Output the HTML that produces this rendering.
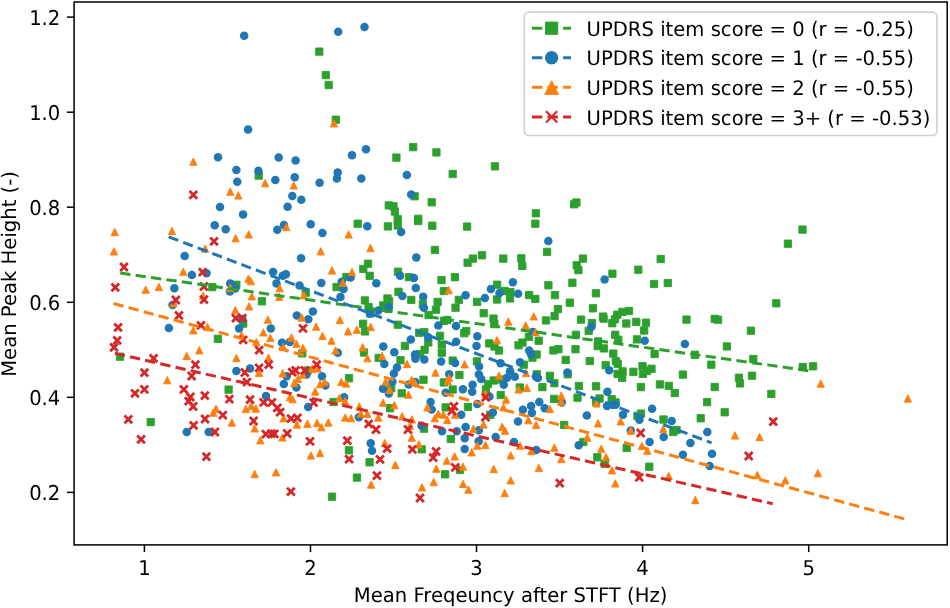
<!DOCTYPE html><html><head><meta charset="utf-8"><style>html,body{margin:0;padding:0;background:#fff;width:950px;height:608px;overflow:hidden}svg{display:block}text{font-family:"DejaVu Sans", "Liberation Sans", sans-serif;font-size:19.6px;fill:#000;text-rendering:geometricPrecision}</style></head><body>
<svg width="950" height="608" viewBox="0 0 950 608">
<rect x="0" y="0" width="950" height="608" fill="#fff"/>
<defs><clipPath id="ax"><rect x="74.1" y="2.0" width="873.1" height="542.9"/></clipPath></defs>
<g clip-path="url(#ax)">
<g fill="#2ca02c" stroke="#2ca02c" stroke-width="0.9" stroke-linejoin="round"><rect x="315.65" y="47.95" width="7.30" height="7.30"/><rect x="322.15" y="71.45" width="7.30" height="7.30"/><rect x="325.05" y="81.35" width="7.30" height="7.30"/><rect x="332.15" y="116.05" width="7.30" height="7.30"/><rect x="255.05" y="171.95" width="7.30" height="7.30"/><rect x="392.75" y="153.95" width="7.30" height="7.30"/><rect x="409.55" y="143.45" width="7.30" height="7.30"/><rect x="432.75" y="148.75" width="7.30" height="7.30"/><rect x="449.05" y="170.35" width="7.30" height="7.30"/><rect x="410.95" y="192.65" width="7.30" height="7.30"/><rect x="491.25" y="162.65" width="7.30" height="7.30"/><rect x="428.05" y="198.65" width="7.30" height="7.30"/><rect x="385.15" y="201.75" width="7.30" height="7.30"/><rect x="389.85" y="202.65" width="7.30" height="7.30"/><rect x="391.25" y="207.95" width="7.30" height="7.30"/><rect x="394.05" y="215.55" width="7.30" height="7.30"/><rect x="394.05" y="221.85" width="7.30" height="7.30"/><rect x="354.05" y="220.05" width="7.30" height="7.30"/><rect x="384.25" y="222.75" width="7.30" height="7.30"/><rect x="414.55" y="215.15" width="7.30" height="7.30"/><rect x="414.45" y="217.35" width="7.30" height="7.30"/><rect x="428.65" y="222.05" width="7.30" height="7.30"/><rect x="431.25" y="246.25" width="7.30" height="7.30"/><rect x="364.35" y="260.05" width="7.30" height="7.30"/><rect x="359.65" y="265.35" width="7.30" height="7.30"/><rect x="394.35" y="268.05" width="7.30" height="7.30"/><rect x="463.45" y="222.95" width="7.30" height="7.30"/><rect x="532.25" y="209.65" width="7.30" height="7.30"/><rect x="531.65" y="220.05" width="7.30" height="7.30"/><rect x="543.45" y="248.25" width="7.30" height="7.30"/><rect x="478.35" y="251.65" width="7.30" height="7.30"/><rect x="469.25" y="254.95" width="7.30" height="7.30"/><rect x="463.95" y="259.05" width="7.30" height="7.30"/><rect x="499.65" y="254.95" width="7.30" height="7.30"/><rect x="517.65" y="254.65" width="7.30" height="7.30"/><rect x="518.65" y="262.25" width="7.30" height="7.30"/><rect x="572.75" y="198.85" width="7.30" height="7.30"/><rect x="570.55" y="200.65" width="7.30" height="7.30"/><rect x="579.25" y="254.95" width="7.30" height="7.30"/><rect x="573.05" y="261.65" width="7.30" height="7.30"/><rect x="574.75" y="266.45" width="7.30" height="7.30"/><rect x="657.05" y="255.35" width="7.30" height="7.30"/><rect x="634.65" y="266.05" width="7.30" height="7.30"/><rect x="608.75" y="270.05" width="7.30" height="7.30"/><rect x="798.85" y="225.95" width="7.30" height="7.30"/><rect x="784.25" y="240.05" width="7.30" height="7.30"/><rect x="208.65" y="283.45" width="7.30" height="7.30"/><rect x="232.65" y="281.15" width="7.30" height="7.30"/><rect x="258.25" y="297.65" width="7.30" height="7.30"/><rect x="302.05" y="288.95" width="7.30" height="7.30"/><rect x="239.55" y="319.95" width="7.30" height="7.30"/><rect x="214.25" y="335.15" width="7.30" height="7.30"/><rect x="366.05" y="272.15" width="7.30" height="7.30"/><rect x="342.75" y="273.35" width="7.30" height="7.30"/><rect x="332.95" y="283.45" width="7.30" height="7.30"/><rect x="394.85" y="288.15" width="7.30" height="7.30"/><rect x="361.25" y="296.75" width="7.30" height="7.30"/><rect x="364.95" y="303.45" width="7.30" height="7.30"/><rect x="366.75" y="309.75" width="7.30" height="7.30"/><rect x="379.65" y="301.75" width="7.30" height="7.30"/><rect x="383.85" y="294.85" width="7.30" height="7.30"/><rect x="385.45" y="297.55" width="7.30" height="7.30"/><rect x="384.85" y="305.15" width="7.30" height="7.30"/><rect x="405.35" y="273.55" width="7.30" height="7.30"/><rect x="407.65" y="296.25" width="7.30" height="7.30"/><rect x="419.15" y="300.55" width="7.30" height="7.30"/><rect x="437.85" y="276.45" width="7.30" height="7.30"/><rect x="451.25" y="273.55" width="7.30" height="7.30"/><rect x="440.15" y="287.35" width="7.30" height="7.30"/><rect x="433.95" y="298.25" width="7.30" height="7.30"/><rect x="432.35" y="306.05" width="7.30" height="7.30"/><rect x="424.95" y="311.35" width="7.30" height="7.30"/><rect x="359.45" y="320.15" width="7.30" height="7.30"/><rect x="361.35" y="327.75" width="7.30" height="7.30"/><rect x="394.25" y="321.05" width="7.30" height="7.30"/><rect x="440.35" y="317.15" width="7.30" height="7.30"/><rect x="443.65" y="316.35" width="7.30" height="7.30"/><rect x="415.55" y="329.15" width="7.30" height="7.30"/><rect x="420.65" y="328.55" width="7.30" height="7.30"/><rect x="424.65" y="338.75" width="7.30" height="7.30"/><rect x="420.95" y="346.15" width="7.30" height="7.30"/><rect x="401.25" y="342.25" width="7.30" height="7.30"/><rect x="436.35" y="332.15" width="7.30" height="7.30"/><rect x="438.15" y="340.85" width="7.30" height="7.30"/><rect x="455.15" y="296.25" width="7.30" height="7.30"/><rect x="451.85" y="304.05" width="7.30" height="7.30"/><rect x="473.45" y="298.25" width="7.30" height="7.30"/><rect x="480.05" y="309.55" width="7.30" height="7.30"/><rect x="493.45" y="281.05" width="7.30" height="7.30"/><rect x="500.85" y="287.35" width="7.30" height="7.30"/><rect x="506.75" y="288.45" width="7.30" height="7.30"/><rect x="506.35" y="294.75" width="7.30" height="7.30"/><rect x="493.45" y="295.85" width="7.30" height="7.30"/><rect x="489.85" y="314.95" width="7.30" height="7.30"/><rect x="490.75" y="320.45" width="7.30" height="7.30"/><rect x="462.55" y="327.35" width="7.30" height="7.30"/><rect x="460.65" y="329.55" width="7.30" height="7.30"/><rect x="485.65" y="339.75" width="7.30" height="7.30"/><rect x="490.85" y="342.85" width="7.30" height="7.30"/><rect x="495.35" y="346.85" width="7.30" height="7.30"/><rect x="514.85" y="341.65" width="7.30" height="7.30"/><rect x="518.75" y="338.95" width="7.30" height="7.30"/><rect x="544.75" y="281.65" width="7.30" height="7.30"/><rect x="568.75" y="279.15" width="7.30" height="7.30"/><rect x="525.45" y="291.45" width="7.30" height="7.30"/><rect x="531.65" y="295.25" width="7.30" height="7.30"/><rect x="551.35" y="291.45" width="7.30" height="7.30"/><rect x="566.15" y="299.05" width="7.30" height="7.30"/><rect x="554.25" y="305.45" width="7.30" height="7.30"/><rect x="550.95" y="312.45" width="7.30" height="7.30"/><rect x="542.35" y="316.75" width="7.30" height="7.30"/><rect x="525.25" y="333.15" width="7.30" height="7.30"/><rect x="535.05" y="337.05" width="7.30" height="7.30"/><rect x="554.75" y="345.55" width="7.30" height="7.30"/><rect x="549.75" y="346.75" width="7.30" height="7.30"/><rect x="592.25" y="289.65" width="7.30" height="7.30"/><rect x="589.35" y="304.65" width="7.30" height="7.30"/><rect x="577.35" y="315.95" width="7.30" height="7.30"/><rect x="588.25" y="319.45" width="7.30" height="7.30"/><rect x="585.05" y="327.25" width="7.30" height="7.30"/><rect x="572.25" y="331.15" width="7.30" height="7.30"/><rect x="599.35" y="312.95" width="7.30" height="7.30"/><rect x="599.95" y="314.95" width="7.30" height="7.30"/><rect x="608.65" y="319.55" width="7.30" height="7.30"/><rect x="611.35" y="315.65" width="7.30" height="7.30"/><rect x="613.65" y="311.05" width="7.30" height="7.30"/><rect x="618.75" y="308.25" width="7.30" height="7.30"/><rect x="625.35" y="307.35" width="7.30" height="7.30"/><rect x="622.65" y="319.85" width="7.30" height="7.30"/><rect x="632.65" y="318.25" width="7.30" height="7.30"/><rect x="642.35" y="319.05" width="7.30" height="7.30"/><rect x="640.55" y="326.85" width="7.30" height="7.30"/><rect x="611.55" y="331.15" width="7.30" height="7.30"/><rect x="614.65" y="336.15" width="7.30" height="7.30"/><rect x="633.35" y="335.75" width="7.30" height="7.30"/><rect x="594.45" y="337.75" width="7.30" height="7.30"/><rect x="594.05" y="342.45" width="7.30" height="7.30"/><rect x="600.25" y="344.75" width="7.30" height="7.30"/><rect x="571.85" y="345.55" width="7.30" height="7.30"/><rect x="650.45" y="280.35" width="7.30" height="7.30"/><rect x="664.15" y="279.35" width="7.30" height="7.30"/><rect x="682.85" y="315.95" width="7.30" height="7.30"/><rect x="772.65" y="299.65" width="7.30" height="7.30"/><rect x="711.05" y="315.25" width="7.30" height="7.30"/><rect x="714.35" y="316.05" width="7.30" height="7.30"/><rect x="747.25" y="327.05" width="7.30" height="7.30"/><rect x="723.25" y="342.75" width="7.30" height="7.30"/><rect x="116.35" y="353.05" width="7.30" height="7.30"/><rect x="147.05" y="418.45" width="7.30" height="7.30"/><rect x="224.95" y="385.95" width="7.30" height="7.30"/><rect x="298.65" y="349.75" width="7.30" height="7.30"/><rect x="303.85" y="366.95" width="7.30" height="7.30"/><rect x="329.85" y="398.35" width="7.30" height="7.30"/><rect x="360.35" y="348.85" width="7.30" height="7.30"/><rect x="375.05" y="354.25" width="7.30" height="7.30"/><rect x="396.85" y="356.55" width="7.30" height="7.30"/><rect x="345.35" y="374.55" width="7.30" height="7.30"/><rect x="387.55" y="384.65" width="7.30" height="7.30"/><rect x="398.05" y="389.65" width="7.30" height="7.30"/><rect x="416.35" y="350.55" width="7.30" height="7.30"/><rect x="438.15" y="349.05" width="7.30" height="7.30"/><rect x="449.05" y="356.95" width="7.30" height="7.30"/><rect x="419.85" y="376.05" width="7.30" height="7.30"/><rect x="440.15" y="378.75" width="7.30" height="7.30"/><rect x="449.05" y="385.85" width="7.30" height="7.30"/><rect x="386.35" y="404.55" width="7.30" height="7.30"/><rect x="442.05" y="403.75" width="7.30" height="7.30"/><rect x="473.25" y="357.75" width="7.30" height="7.30"/><rect x="455.75" y="371.35" width="7.30" height="7.30"/><rect x="520.15" y="361.05" width="7.30" height="7.30"/><rect x="490.15" y="376.85" width="7.30" height="7.30"/><rect x="484.35" y="380.35" width="7.30" height="7.30"/><rect x="482.25" y="385.85" width="7.30" height="7.30"/><rect x="498.05" y="375.85" width="7.30" height="7.30"/><rect x="497.05" y="391.35" width="7.30" height="7.30"/><rect x="516.15" y="383.85" width="7.30" height="7.30"/><rect x="532.95" y="350.85" width="7.30" height="7.30"/><rect x="528.85" y="353.95" width="7.30" height="7.30"/><rect x="562.05" y="356.25" width="7.30" height="7.30"/><rect x="533.15" y="370.65" width="7.30" height="7.30"/><rect x="546.25" y="372.15" width="7.30" height="7.30"/><rect x="550.75" y="379.55" width="7.30" height="7.30"/><rect x="564.05" y="370.65" width="7.30" height="7.30"/><rect x="538.75" y="383.45" width="7.30" height="7.30"/><rect x="464.35" y="403.35" width="7.30" height="7.30"/><rect x="486.55" y="411.15" width="7.30" height="7.30"/><rect x="550.45" y="395.25" width="7.30" height="7.30"/><rect x="560.55" y="421.25" width="7.30" height="7.30"/><rect x="609.65" y="349.95" width="7.30" height="7.30"/><rect x="586.15" y="357.35" width="7.30" height="7.30"/><rect x="602.05" y="361.55" width="7.30" height="7.30"/><rect x="612.25" y="357.55" width="7.30" height="7.30"/><rect x="614.05" y="360.15" width="7.30" height="7.30"/><rect x="618.95" y="367.75" width="7.30" height="7.30"/><rect x="613.95" y="370.25" width="7.30" height="7.30"/><rect x="618.55" y="374.15" width="7.30" height="7.30"/><rect x="629.75" y="368.15" width="7.30" height="7.30"/><rect x="638.85" y="362.45" width="7.30" height="7.30"/><rect x="639.25" y="370.25" width="7.30" height="7.30"/><rect x="647.85" y="365.15" width="7.30" height="7.30"/><rect x="643.35" y="367.35" width="7.30" height="7.30"/><rect x="575.25" y="382.35" width="7.30" height="7.30"/><rect x="592.45" y="382.65" width="7.30" height="7.30"/><rect x="637.25" y="383.45" width="7.30" height="7.30"/><rect x="650.95" y="350.35" width="7.30" height="7.30"/><rect x="691.25" y="351.15" width="7.30" height="7.30"/><rect x="679.25" y="370.95" width="7.30" height="7.30"/><rect x="656.25" y="380.75" width="7.30" height="7.30"/><rect x="665.15" y="382.25" width="7.30" height="7.30"/><rect x="671.15" y="389.35" width="7.30" height="7.30"/><rect x="573.85" y="394.05" width="7.30" height="7.30"/><rect x="595.95" y="394.85" width="7.30" height="7.30"/><rect x="592.45" y="398.35" width="7.30" height="7.30"/><rect x="608.05" y="395.55" width="7.30" height="7.30"/><rect x="611.95" y="398.75" width="7.30" height="7.30"/><rect x="637.35" y="409.95" width="7.30" height="7.30"/><rect x="633.85" y="412.35" width="7.30" height="7.30"/><rect x="659.85" y="415.85" width="7.30" height="7.30"/><rect x="707.65" y="361.05" width="7.30" height="7.30"/><rect x="749.65" y="355.35" width="7.30" height="7.30"/><rect x="735.25" y="374.05" width="7.30" height="7.30"/><rect x="736.35" y="379.75" width="7.30" height="7.30"/><rect x="748.35" y="372.05" width="7.30" height="7.30"/><rect x="711.05" y="383.35" width="7.30" height="7.30"/><rect x="767.65" y="390.25" width="7.30" height="7.30"/><rect x="703.45" y="398.45" width="7.30" height="7.30"/><rect x="721.05" y="408.65" width="7.30" height="7.30"/><rect x="697.05" y="414.65" width="7.30" height="7.30"/><rect x="799.05" y="363.35" width="7.30" height="7.30"/><rect x="809.45" y="362.65" width="7.30" height="7.30"/><rect x="328.35" y="493.05" width="7.30" height="7.30"/><rect x="345.25" y="446.65" width="7.30" height="7.30"/><rect x="365.95" y="458.65" width="7.30" height="7.30"/><rect x="353.25" y="473.95" width="7.30" height="7.30"/><rect x="418.05" y="445.65" width="7.30" height="7.30"/><rect x="420.35" y="425.05" width="7.30" height="7.30"/><rect x="447.15" y="435.35" width="7.30" height="7.30"/><rect x="441.45" y="470.65" width="7.30" height="7.30"/><rect x="456.35" y="466.35" width="7.30" height="7.30"/><rect x="669.65" y="428.35" width="7.30" height="7.30"/><rect x="672.85" y="426.35" width="7.30" height="7.30"/><rect x="579.65" y="438.35" width="7.30" height="7.30"/><rect x="593.65" y="453.65" width="7.30" height="7.30"/><rect x="601.05" y="460.35" width="7.30" height="7.30"/><rect x="623.05" y="444.35" width="7.30" height="7.30"/><rect x="645.65" y="463.05" width="7.30" height="7.30"/></g>
<g fill="#1f77b4"><circle cx="244.2" cy="35.8" r="4.25"/><circle cx="338.2" cy="31.7" r="4.25"/><circle cx="364.5" cy="26.9" r="4.25"/><circle cx="248.1" cy="129.6" r="4.25"/><circle cx="218.0" cy="157.2" r="4.25"/><circle cx="278.7" cy="157.6" r="4.25"/><circle cx="295.6" cy="160.4" r="4.25"/><circle cx="236.4" cy="169.9" r="4.25"/><circle cx="258.4" cy="170.7" r="4.25"/><circle cx="237.3" cy="181.7" r="4.25"/><circle cx="275.3" cy="180.1" r="4.25"/><circle cx="294.7" cy="177.3" r="4.25"/><circle cx="319.6" cy="182.7" r="4.25"/><circle cx="292.3" cy="196.0" r="4.25"/><circle cx="352.0" cy="155.3" r="4.25"/><circle cx="366.0" cy="149.3" r="4.25"/><circle cx="337.7" cy="172.4" r="4.25"/><circle cx="336.9" cy="178.4" r="4.25"/><circle cx="361.3" cy="178.4" r="4.25"/><circle cx="406.9" cy="175.1" r="4.25"/><circle cx="411.2" cy="194.4" r="4.25"/><circle cx="214.7" cy="225.3" r="4.25"/><circle cx="184.7" cy="255.9" r="4.25"/><circle cx="191.9" cy="275.1" r="4.25"/><circle cx="206.5" cy="273.3" r="4.25"/><circle cx="301.3" cy="199.7" r="4.25"/><circle cx="220.0" cy="207.0" r="4.25"/><circle cx="243.1" cy="214.6" r="4.25"/><circle cx="287.6" cy="206.7" r="4.25"/><circle cx="225.7" cy="229.3" r="4.25"/><circle cx="277.3" cy="229.7" r="4.25"/><circle cx="284.0" cy="225.0" r="4.25"/><circle cx="310.7" cy="224.3" r="4.25"/><circle cx="322.4" cy="233.0" r="4.25"/><circle cx="301.1" cy="258.3" r="4.25"/><circle cx="273.1" cy="272.1" r="4.25"/><circle cx="367.3" cy="226.3" r="4.25"/><circle cx="401.1" cy="232.1" r="4.25"/><circle cx="416.3" cy="257.4" r="4.25"/><circle cx="548.3" cy="241.0" r="4.25"/><circle cx="174.4" cy="288.3" r="4.25"/><circle cx="172.5" cy="304.9" r="4.25"/><circle cx="168.9" cy="328.0" r="4.25"/><circle cx="230.2" cy="283.5" r="4.25"/><circle cx="235.3" cy="288.5" r="4.25"/><circle cx="229.9" cy="291.6" r="4.25"/><circle cx="282.7" cy="275.8" r="4.25"/><circle cx="285.9" cy="274.3" r="4.25"/><circle cx="276.5" cy="283.6" r="4.25"/><circle cx="299.5" cy="285.6" r="4.25"/><circle cx="321.3" cy="282.9" r="4.25"/><circle cx="312.9" cy="311.4" r="4.25"/><circle cx="296.8" cy="315.4" r="4.25"/><circle cx="308.3" cy="319.3" r="4.25"/><circle cx="242.4" cy="318.9" r="4.25"/><circle cx="239.1" cy="328.6" r="4.25"/><circle cx="270.8" cy="328.6" r="4.25"/><circle cx="282.0" cy="342.7" r="4.25"/><circle cx="289.8" cy="341.9" r="4.25"/><circle cx="376.3" cy="283.2" r="4.25"/><circle cx="350.6" cy="277.4" r="4.25"/><circle cx="341.7" cy="281.7" r="4.25"/><circle cx="343.6" cy="289.1" r="4.25"/><circle cx="340.5" cy="296.9" r="4.25"/><circle cx="400.1" cy="275.8" r="4.25"/><circle cx="402.4" cy="296.1" r="4.25"/><circle cx="370.0" cy="313.4" r="4.25"/><circle cx="378.4" cy="310.5" r="4.25"/><circle cx="388.8" cy="307.3" r="4.25"/><circle cx="414.0" cy="278.0" r="4.25"/><circle cx="415.8" cy="287.9" r="4.25"/><circle cx="423.2" cy="296.8" r="4.25"/><circle cx="423.9" cy="307.7" r="4.25"/><circle cx="438.3" cy="325.5" r="4.25"/><circle cx="428.2" cy="337.3" r="4.25"/><circle cx="410.8" cy="339.4" r="4.25"/><circle cx="383.3" cy="346.6" r="4.25"/><circle cx="465.6" cy="295.3" r="4.25"/><circle cx="484.9" cy="298.0" r="4.25"/><circle cx="490.9" cy="289.0" r="4.25"/><circle cx="499.5" cy="292.9" r="4.25"/><circle cx="512.9" cy="282.2" r="4.25"/><circle cx="518.1" cy="293.7" r="4.25"/><circle cx="456.1" cy="325.9" r="4.25"/><circle cx="477.3" cy="336.2" r="4.25"/><circle cx="456.1" cy="341.8" r="4.25"/><circle cx="476.5" cy="346.1" r="4.25"/><circle cx="532.7" cy="332.1" r="4.25"/><circle cx="529.2" cy="350.5" r="4.25"/><circle cx="604.6" cy="279.5" r="4.25"/><circle cx="591.5" cy="326.8" r="4.25"/><circle cx="644.7" cy="340.8" r="4.25"/><circle cx="684.9" cy="343.9" r="4.25"/><circle cx="236.4" cy="370.9" r="4.25"/><circle cx="250.1" cy="368.6" r="4.25"/><circle cx="286.7" cy="376.2" r="4.25"/><circle cx="283.8" cy="384.1" r="4.25"/><circle cx="306.4" cy="374.8" r="4.25"/><circle cx="296.4" cy="387.5" r="4.25"/><circle cx="322.0" cy="376.2" r="4.25"/><circle cx="325.4" cy="385.4" r="4.25"/><circle cx="266.0" cy="396.1" r="4.25"/><circle cx="308.2" cy="407.0" r="4.25"/><circle cx="337.8" cy="352.8" r="4.25"/><circle cx="394.3" cy="352.3" r="4.25"/><circle cx="384.3" cy="364.0" r="4.25"/><circle cx="397.0" cy="367.4" r="4.25"/><circle cx="393.9" cy="373.5" r="4.25"/><circle cx="392.4" cy="381.7" r="4.25"/><circle cx="383.0" cy="388.7" r="4.25"/><circle cx="388.9" cy="393.4" r="4.25"/><circle cx="415.0" cy="354.4" r="4.25"/><circle cx="415.4" cy="358.7" r="4.25"/><circle cx="424.3" cy="359.5" r="4.25"/><circle cx="441.1" cy="361.4" r="4.25"/><circle cx="408.7" cy="384.4" r="4.25"/><circle cx="415.4" cy="382.0" r="4.25"/><circle cx="449.2" cy="374.3" r="4.25"/><circle cx="445.7" cy="392.8" r="4.25"/><circle cx="344.1" cy="397.3" r="4.25"/><circle cx="358.9" cy="417.2" r="4.25"/><circle cx="430.6" cy="402.0" r="4.25"/><circle cx="431.7" cy="409.4" r="4.25"/><circle cx="421.6" cy="425.7" r="4.25"/><circle cx="455.1" cy="363.0" r="4.25"/><circle cx="479.1" cy="366.5" r="4.25"/><circle cx="478.9" cy="374.6" r="4.25"/><circle cx="481.2" cy="378.9" r="4.25"/><circle cx="500.6" cy="363.2" r="4.25"/><circle cx="520.0" cy="362.2" r="4.25"/><circle cx="510.1" cy="371.3" r="4.25"/><circle cx="514.8" cy="376.8" r="4.25"/><circle cx="507.0" cy="377.8" r="4.25"/><circle cx="503.8" cy="384.7" r="4.25"/><circle cx="472.6" cy="384.8" r="4.25"/><circle cx="462.9" cy="389.3" r="4.25"/><circle cx="472.2" cy="391.8" r="4.25"/><circle cx="531.0" cy="354.2" r="4.25"/><circle cx="535.8" cy="376.5" r="4.25"/><circle cx="537.8" cy="377.9" r="4.25"/><circle cx="567.5" cy="372.5" r="4.25"/><circle cx="489.4" cy="396.5" r="4.25"/><circle cx="477.3" cy="403.9" r="4.25"/><circle cx="461.2" cy="414.8" r="4.25"/><circle cx="492.9" cy="412.5" r="4.25"/><circle cx="465.6" cy="426.9" r="4.25"/><circle cx="518.0" cy="421.4" r="4.25"/><circle cx="522.9" cy="409.8" r="4.25"/><circle cx="539.3" cy="402.0" r="4.25"/><circle cx="531.1" cy="405.9" r="4.25"/><circle cx="531.9" cy="412.9" r="4.25"/><circle cx="544.7" cy="408.2" r="4.25"/><circle cx="561.8" cy="402.4" r="4.25"/><circle cx="609.2" cy="370.2" r="4.25"/><circle cx="607.4" cy="391.8" r="4.25"/><circle cx="607.0" cy="405.9" r="4.25"/><circle cx="612.5" cy="404.7" r="4.25"/><circle cx="615.6" cy="404.7" r="4.25"/><circle cx="623.0" cy="414.8" r="4.25"/><circle cx="639.4" cy="419.7" r="4.25"/><circle cx="586.8" cy="415.6" r="4.25"/><circle cx="652.1" cy="408.7" r="4.25"/><circle cx="671.7" cy="420.9" r="4.25"/><circle cx="186.7" cy="432.0" r="4.25"/><circle cx="208.7" cy="432.0" r="4.25"/><circle cx="370.7" cy="443.3" r="4.25"/><circle cx="372.0" cy="450.7" r="4.25"/><circle cx="442.0" cy="431.3" r="4.25"/><circle cx="456.7" cy="431.3" r="4.25"/><circle cx="478.8" cy="430.3" r="4.25"/><circle cx="464.7" cy="438.3" r="4.25"/><circle cx="478.7" cy="441.3" r="4.25"/><circle cx="464.7" cy="448.9" r="4.25"/><circle cx="495.7" cy="437.1" r="4.25"/><circle cx="514.0" cy="442.0" r="4.25"/><circle cx="536.3" cy="450.0" r="4.25"/><circle cx="630.8" cy="430.5" r="4.25"/><circle cx="663.7" cy="436.9" r="4.25"/><circle cx="690.4" cy="443.1" r="4.25"/><circle cx="682.9" cy="454.7" r="4.25"/><circle cx="578.7" cy="445.3" r="4.25"/><circle cx="649.6" cy="442.0" r="4.25"/><circle cx="707.3" cy="432.0" r="4.25"/><circle cx="712.0" cy="453.7" r="4.25"/><circle cx="709.7" cy="466.0" r="4.25"/></g>
<g fill="#ff7f0e" stroke="#ff7f0e" stroke-width="0.9" stroke-linejoin="round"><path d="M193.30 157.91L196.97 165.25L189.63 165.25Z"/><path d="M265.10 179.51L268.77 186.85L261.43 186.85Z"/><path d="M293.70 181.71L297.37 189.05L290.03 189.05Z"/><path d="M230.30 187.91L233.97 195.25L226.63 195.25Z"/><path d="M238.30 191.71L241.97 199.05L234.63 199.05Z"/><path d="M333.90 119.61L337.57 126.95L330.23 126.95Z"/><path d="M114.70 228.31L118.37 235.65L111.03 235.65Z"/><path d="M172.00 227.31L175.67 234.65L168.33 234.65Z"/><path d="M114.00 247.61L117.67 254.95L110.33 254.95Z"/><path d="M205.10 244.91L208.77 252.25L201.43 252.25Z"/><path d="M183.30 268.01L186.97 275.35L179.63 275.35Z"/><path d="M235.60 234.51L239.27 241.85L231.93 241.85Z"/><path d="M248.70 230.71L252.37 238.05L245.03 238.05Z"/><path d="M286.30 223.31L289.97 230.65L282.63 230.65Z"/><path d="M320.70 247.61L324.37 254.95L317.03 254.95Z"/><path d="M332.00 266.71L335.67 274.05L328.33 274.05Z"/><path d="M348.70 230.71L352.37 238.05L345.03 238.05Z"/><path d="M370.40 244.31L374.07 251.65L366.73 251.65Z"/><path d="M352.00 268.31L355.67 275.65L348.33 275.65Z"/><path d="M145.70 285.91L149.37 293.25L142.03 293.25Z"/><path d="M158.90 283.31L162.57 290.65L155.23 290.65Z"/><path d="M203.10 291.91L206.77 299.25L199.43 299.25Z"/><path d="M173.50 299.51L177.17 306.85L169.83 306.85Z"/><path d="M193.30 326.61L196.97 333.95L189.63 333.95Z"/><path d="M207.50 323.31L211.17 330.65L203.83 330.65Z"/><path d="M199.30 346.61L202.97 353.95L195.63 353.95Z"/><path d="M230.20 284.11L233.87 291.45L226.53 291.45Z"/><path d="M248.40 275.01L252.07 282.35L244.73 282.35Z"/><path d="M250.80 277.41L254.47 284.75L247.13 284.75Z"/><path d="M251.80 292.61L255.47 299.95L248.13 299.95Z"/><path d="M249.10 302.71L252.77 310.05L245.43 310.05Z"/><path d="M235.30 306.51L238.97 313.85L231.63 313.85Z"/><path d="M279.60 284.51L283.27 291.85L275.93 291.85Z"/><path d="M279.20 293.11L282.87 300.45L275.53 300.45Z"/><path d="M303.80 291.51L307.47 298.85L300.13 298.85Z"/><path d="M301.70 313.81L305.37 321.15L298.03 321.15Z"/><path d="M241.60 331.51L245.27 338.85L237.93 338.85Z"/><path d="M256.40 338.51L260.07 345.85L252.73 345.85Z"/><path d="M267.90 315.91L271.57 323.25L264.23 323.25Z"/><path d="M263.40 328.71L267.07 336.05L259.73 336.05Z"/><path d="M270.30 334.21L273.97 341.55L266.63 341.55Z"/><path d="M316.10 322.91L319.77 330.25L312.43 330.25Z"/><path d="M322.50 332.21L326.17 339.55L318.83 339.55Z"/><path d="M331.50 336.91L335.17 344.25L327.83 344.25Z"/><path d="M291.40 333.81L295.07 341.15L287.73 341.15Z"/><path d="M296.40 340.01L300.07 347.35L292.73 347.35Z"/><path d="M283.20 343.21L286.87 350.55L279.53 350.55Z"/><path d="M303.00 344.31L306.67 351.65L299.33 351.65Z"/><path d="M342.90 279.11L346.57 286.45L339.23 286.45Z"/><path d="M448.70 286.41L452.37 293.75L445.03 293.75Z"/><path d="M339.80 316.31L343.47 323.65L336.13 323.65Z"/><path d="M370.70 323.31L374.37 330.65L367.03 330.65Z"/><path d="M348.10 327.61L351.77 334.95L344.43 334.95Z"/><path d="M356.90 326.01L360.57 333.35L353.23 333.35Z"/><path d="M335.50 346.71L339.17 354.05L331.83 354.05Z"/><path d="M362.70 343.61L366.37 350.95L359.03 350.95Z"/><path d="M508.30 317.81L511.97 325.15L504.63 325.15Z"/><path d="M497.00 336.51L500.67 343.85L493.33 343.85Z"/><path d="M533.70 312.71L537.37 320.05L530.03 320.05Z"/><path d="M525.60 321.71L529.27 329.05L521.93 329.05Z"/><path d="M535.50 328.31L539.17 335.65L531.83 335.65Z"/><path d="M186.70 352.31L190.37 359.65L183.03 359.65Z"/><path d="M167.30 376.51L170.97 383.85L163.63 383.85Z"/><path d="M213.30 408.91L216.97 416.25L209.63 416.25Z"/><path d="M236.40 354.31L240.07 361.65L232.73 361.65Z"/><path d="M259.00 369.11L262.67 376.45L255.33 376.45Z"/><path d="M268.40 353.91L272.07 361.25L264.73 361.25Z"/><path d="M282.70 369.61L286.37 376.95L279.03 376.95Z"/><path d="M312.40 364.91L316.07 372.25L308.73 372.25Z"/><path d="M317.60 364.61L321.27 371.95L313.93 371.95Z"/><path d="M302.70 370.91L306.37 378.25L299.03 378.25Z"/><path d="M298.00 375.11L301.67 382.45L294.33 382.45Z"/><path d="M294.30 379.31L297.97 386.65L290.63 386.65Z"/><path d="M320.10 380.41L323.77 387.75L316.43 387.75Z"/><path d="M324.80 378.31L328.47 385.65L321.13 385.65Z"/><path d="M315.20 387.81L318.87 395.15L311.53 395.15Z"/><path d="M216.00 405.11L219.67 412.45L212.33 412.45Z"/><path d="M245.80 405.21L249.47 412.55L242.13 412.55Z"/><path d="M251.20 402.51L254.87 409.85L247.53 409.85Z"/><path d="M255.90 404.81L259.57 412.15L252.23 412.15Z"/><path d="M231.80 418.81L235.47 426.15L228.13 426.15Z"/><path d="M289.90 393.51L293.57 400.85L286.23 400.85Z"/><path d="M292.60 395.51L296.27 402.85L288.93 402.85Z"/><path d="M283.60 414.51L287.27 421.85L279.93 421.85Z"/><path d="M296.90 420.81L300.57 428.15L293.23 428.15Z"/><path d="M307.40 420.01L311.07 427.35L303.73 427.35Z"/><path d="M317.10 419.21L320.77 426.55L313.43 426.55Z"/><path d="M321.40 423.51L325.07 430.85L317.73 430.85Z"/><path d="M328.40 418.81L332.07 426.15L324.73 426.15Z"/><path d="M367.40 354.51L371.07 361.85L363.73 361.85Z"/><path d="M382.10 352.21L385.77 359.55L378.43 359.55Z"/><path d="M341.30 378.31L344.97 385.65L337.63 385.65Z"/><path d="M346.00 379.81L349.67 387.15L342.33 387.15Z"/><path d="M385.70 377.91L389.37 385.25L382.03 385.25Z"/><path d="M389.60 386.11L393.27 393.45L385.93 393.45Z"/><path d="M407.00 360.31L410.67 367.65L403.33 367.65Z"/><path d="M435.50 368.91L439.17 376.25L431.83 376.25Z"/><path d="M411.50 376.31L415.17 383.65L407.83 383.65Z"/><path d="M414.60 378.61L418.27 385.95L410.93 385.95Z"/><path d="M449.00 373.91L452.67 381.25L445.33 381.25Z"/><path d="M447.80 377.41L451.47 384.75L444.13 384.75Z"/><path d="M408.40 390.91L412.07 398.25L404.73 398.25Z"/><path d="M339.40 394.31L343.07 401.65L335.73 401.65Z"/><path d="M345.20 397.41L348.87 404.75L341.53 404.75Z"/><path d="M359.30 402.81L362.97 410.15L355.63 410.15Z"/><path d="M360.80 409.91L364.47 417.25L357.13 417.25Z"/><path d="M367.40 410.21L371.07 417.55L363.73 417.55Z"/><path d="M345.20 413.81L348.87 421.15L341.53 421.15Z"/><path d="M351.10 414.51L354.77 421.85L347.43 421.85Z"/><path d="M378.30 413.81L381.97 421.15L374.63 421.15Z"/><path d="M383.00 399.01L386.67 406.35L379.33 406.35Z"/><path d="M394.30 401.51L397.97 408.85L390.63 408.85Z"/><path d="M402.10 412.61L405.77 419.95L398.43 419.95Z"/><path d="M427.40 403.61L431.07 410.95L423.73 410.95Z"/><path d="M438.30 410.21L441.97 417.55L434.63 417.55Z"/><path d="M443.40 411.01L447.07 418.35L439.73 418.35Z"/><path d="M434.80 414.51L438.47 421.85L431.13 421.85Z"/><path d="M447.30 416.11L450.97 423.45L443.63 423.45Z"/><path d="M411.90 415.71L415.57 423.05L408.23 423.05Z"/><path d="M409.90 422.31L413.57 429.65L406.23 429.65Z"/><path d="M464.60 360.71L468.27 368.05L460.93 368.05Z"/><path d="M499.10 371.91L502.77 379.25L495.43 379.25Z"/><path d="M485.50 390.11L489.17 397.45L481.83 397.45Z"/><path d="M518.60 385.71L522.27 393.05L514.93 393.05Z"/><path d="M526.00 369.31L529.67 376.65L522.33 376.65Z"/><path d="M526.80 384.11L530.47 391.45L523.13 391.45Z"/><path d="M506.10 395.81L509.77 403.15L502.43 403.15Z"/><path d="M455.00 411.01L458.67 418.35L451.33 418.35Z"/><path d="M503.40 403.61L507.07 410.95L499.73 410.95Z"/><path d="M483.50 420.81L487.17 428.15L479.83 428.15Z"/><path d="M502.20 423.11L505.87 430.45L498.53 430.45Z"/><path d="M561.20 391.91L564.87 399.25L557.53 399.25Z"/><path d="M561.10 397.81L564.77 405.15L557.43 405.15Z"/><path d="M549.80 405.21L553.47 412.55L546.13 412.55Z"/><path d="M528.40 416.51L532.07 423.85L524.73 423.85Z"/><path d="M536.10 421.21L539.77 428.55L532.43 428.55Z"/><path d="M596.50 399.71L600.17 407.05L592.83 407.05Z"/><path d="M598.10 419.61L601.77 426.95L594.43 426.95Z"/><path d="M620.70 417.61L624.37 424.95L617.03 424.95Z"/><path d="M820.70 379.91L824.37 387.25L817.03 387.25Z"/><path d="M907.90 394.81L911.57 402.15L904.23 402.15Z"/><path d="M254.70 424.71L258.37 432.05L251.03 432.05Z"/><path d="M260.30 436.61L263.97 443.95L256.63 443.95Z"/><path d="M282.40 433.71L286.07 441.05L278.73 441.05Z"/><path d="M310.90 451.71L314.57 459.05L307.23 459.05Z"/><path d="M320.00 449.31L323.67 456.65L316.33 456.65Z"/><path d="M254.70 470.31L258.37 477.65L251.03 477.65Z"/><path d="M276.00 468.61L279.67 475.95L272.33 475.95Z"/><path d="M384.70 439.31L388.37 446.65L381.03 446.65Z"/><path d="M395.30 461.31L398.97 468.65L391.63 468.65Z"/><path d="M371.10 480.91L374.77 488.25L367.43 488.25Z"/><path d="M411.70 433.91L415.37 441.25L408.03 441.25Z"/><path d="M418.90 440.61L422.57 447.95L415.23 447.95Z"/><path d="M446.80 456.91L450.47 464.25L443.13 464.25Z"/><path d="M454.70 452.71L458.37 460.05L451.03 460.05Z"/><path d="M436.30 465.01L439.97 472.35L432.63 472.35Z"/><path d="M433.70 478.31L437.37 485.65L430.03 485.65Z"/><path d="M422.00 483.71L425.67 491.05L418.33 491.05Z"/><path d="M477.30 441.91L480.97 449.25L473.63 449.25Z"/><path d="M485.30 441.31L488.97 448.65L481.63 448.65Z"/><path d="M471.70 448.61L475.37 455.95L468.03 455.95Z"/><path d="M520.00 441.91L523.67 449.25L516.33 449.25Z"/><path d="M510.70 451.71L514.37 459.05L507.03 459.05Z"/><path d="M531.30 447.31L534.97 454.65L527.63 454.65Z"/><path d="M554.40 443.91L558.07 451.25L550.73 451.25Z"/><path d="M561.30 455.31L564.97 462.65L557.63 462.65Z"/><path d="M462.90 462.91L466.57 470.25L459.23 470.25Z"/><path d="M493.70 465.31L497.37 472.65L490.03 472.65Z"/><path d="M538.90 464.21L542.57 471.55L535.23 471.55Z"/><path d="M510.70 476.61L514.37 483.95L507.03 483.95Z"/><path d="M463.10 480.21L466.77 487.55L459.43 487.55Z"/><path d="M468.40 485.91L472.07 493.25L464.73 493.25Z"/><path d="M504.70 489.31L508.37 496.65L501.03 496.65Z"/><path d="M473.40 425.01L477.07 432.35L469.73 432.35Z"/><path d="M505.00 427.01L508.67 434.35L501.33 434.35Z"/><path d="M630.80 426.91L634.47 434.25L627.13 434.25Z"/><path d="M663.30 425.31L666.97 432.65L659.63 432.65Z"/><path d="M587.30 433.91L590.97 441.25L583.63 441.25Z"/><path d="M601.30 445.01L604.97 452.35L597.63 452.35Z"/><path d="M606.00 453.31L609.67 460.65L602.33 460.65Z"/><path d="M612.00 466.61L615.67 473.95L608.33 473.95Z"/><path d="M615.30 479.71L618.97 487.05L611.63 487.05Z"/><path d="M642.00 442.31L645.67 449.65L638.33 449.65Z"/><path d="M647.30 446.91L650.97 454.25L643.63 454.25Z"/><path d="M668.70 472.21L672.37 479.55L665.03 479.55Z"/><path d="M695.30 496.31L698.97 503.65L691.63 503.65Z"/><path d="M734.90 431.71L738.57 439.05L731.23 439.05Z"/><path d="M759.60 433.31L763.27 440.65L755.93 440.65Z"/><path d="M757.30 471.31L760.97 478.65L753.63 478.65Z"/><path d="M785.30 476.61L788.97 483.95L781.63 483.95Z"/><path d="M817.90 469.51L821.57 476.85L814.23 476.85Z"/></g>
<g fill="none" stroke="#d62728" stroke-width="2.8"><path d="M189.5 191.0L197.2 198.7M189.5 198.7L197.2 191.0"/><path d="M210.2 237.5L217.8 245.2M210.2 245.2L217.8 237.5"/><path d="M120.2 263.1L127.8 270.9M120.2 270.9L127.8 263.1"/><path d="M198.8 268.2L206.5 276.0M198.8 276.0L206.5 268.2"/><path d="M111.5 283.4L119.1 291.2M111.5 291.2L119.1 283.4"/><path d="M200.0 282.6L207.7 290.4M200.0 290.4L207.7 282.6"/><path d="M172.0 296.1L179.7 303.9M172.0 303.9L179.7 296.1"/><path d="M200.2 295.8L207.8 303.5M200.2 303.5L207.8 295.8"/><path d="M175.1 311.4L182.8 319.2M175.1 319.2L182.8 311.4"/><path d="M197.1 321.4L204.8 329.2M197.1 329.2L204.8 321.4"/><path d="M114.2 323.4L121.9 331.2M114.2 331.2L121.9 323.4"/><path d="M113.4 336.5L121.0 344.2M113.4 344.2L121.0 336.5"/><path d="M110.2 343.4L117.9 351.2M110.2 351.2L117.9 343.4"/><path d="M232.0 314.2L239.7 322.0M232.0 322.0L239.7 314.2"/><path d="M238.6 314.2L246.2 322.0M238.6 322.0L246.2 314.2"/><path d="M239.3 336.0L247.0 343.8M239.3 343.8L247.0 336.0"/><path d="M255.3 346.2L263.0 354.0M255.3 354.0L263.0 346.2"/><path d="M299.1 324.5L306.9 332.2M299.1 332.2L306.9 324.5"/><path d="M149.8 354.4L157.4 362.2M149.8 362.2L157.4 354.4"/><path d="M140.6 368.8L148.2 376.6M140.6 376.6L148.2 368.8"/><path d="M191.6 360.8L199.2 368.5M191.6 368.5L199.2 360.8"/><path d="M187.8 372.1L195.5 379.9M187.8 379.9L195.5 372.1"/><path d="M140.6 385.4L148.2 393.2M140.6 393.2L148.2 385.4"/><path d="M131.1 389.5L138.8 397.2M131.1 397.2L138.8 389.5"/><path d="M180.0 385.5L187.7 393.2M180.0 393.2L187.7 385.5"/><path d="M186.5 393.1L194.2 400.9M186.5 400.9L194.2 393.1"/><path d="M184.8 397.3L192.5 405.1M184.8 405.1L192.5 397.3"/><path d="M189.3 402.6L197.0 410.4M189.3 410.4L197.0 402.6"/><path d="M201.0 391.8L208.7 399.5M201.0 399.5L208.7 391.8"/><path d="M124.5 415.4L132.2 423.2M124.5 423.2L132.2 415.4"/><path d="M201.2 415.1L208.9 422.9M201.2 422.9L208.9 415.1"/><path d="M189.8 421.4L197.4 429.2M189.8 429.2L197.4 421.4"/><path d="M241.0 368.6L248.7 376.4M241.0 376.4L248.7 368.6"/><path d="M255.2 363.9L262.9 371.7M255.2 371.7L262.9 363.9"/><path d="M264.8 360.8L272.6 368.6M264.8 368.6L272.6 360.8"/><path d="M243.1 378.3L250.8 386.1M243.1 386.1L250.8 378.3"/><path d="M288.3 368.3L296.1 376.1M288.3 376.1L296.1 368.3"/><path d="M291.8 366.5L299.5 374.2M291.8 374.2L299.5 366.5"/><path d="M300.9 366.5L308.7 374.2M300.9 374.2L308.7 366.5"/><path d="M312.8 360.8L320.6 368.5M312.8 368.5L320.6 360.8"/><path d="M225.6 395.3L233.2 403.1M225.6 403.1L233.2 395.3"/><path d="M246.2 395.8L253.9 403.5M246.2 403.5L253.9 395.8"/><path d="M259.8 398.5L267.6 406.2M259.8 406.2L267.6 398.5"/><path d="M268.0 398.5L275.8 406.2M268.0 406.2L275.8 398.5"/><path d="M273.4 403.9L281.2 411.7M273.4 411.7L281.2 403.9"/><path d="M276.2 408.2L284.0 416.0M276.2 416.0L284.0 408.2"/><path d="M219.0 411.3L226.7 419.1M219.0 419.1L226.7 411.3"/><path d="M249.8 417.1L257.4 424.9M249.8 424.9L257.4 417.1"/><path d="M287.1 414.8L294.9 422.6M287.1 422.6L294.9 414.8"/><path d="M293.4 414.0L301.2 421.8M293.4 421.8L301.2 414.0"/><path d="M309.8 398.8L317.5 406.6M309.8 406.6L317.5 398.8"/><path d="M364.8 419.9L372.5 427.7M364.8 427.7L372.5 419.9"/><path d="M450.0 402.5L457.8 410.2M450.0 410.2L457.8 402.5"/><path d="M447.9 407.1L455.7 414.9M447.9 414.9L455.7 407.1"/><path d="M481.8 393.4L489.5 401.2M481.8 401.2L489.5 393.4"/><path d="M481.6 413.3L489.4 421.1M481.6 421.1L489.4 413.3"/><path d="M769.4 417.8L777.1 425.6M769.4 425.6L777.1 417.8"/><path d="M137.2 435.4L144.9 443.2M137.2 443.2L144.9 435.4"/><path d="M202.6 452.8L210.2 460.6M202.6 460.6L210.2 452.8"/><path d="M262.0 430.2L269.8 438.0M262.0 438.0L269.8 430.2"/><path d="M267.5 429.8L275.2 437.6M267.5 437.6L275.2 429.8"/><path d="M270.5 430.0L278.2 437.8M270.5 437.8L278.2 430.0"/><path d="M283.3 429.6L291.1 437.4M283.3 437.4L291.1 429.6"/><path d="M306.1 437.4L313.9 445.2M306.1 445.2L313.9 437.4"/><path d="M287.0 487.8L294.8 495.5M287.0 495.5L294.8 487.8"/><path d="M211.2 428.1L218.8 435.9M211.2 435.9L218.8 428.1"/><path d="M372.1 425.6L379.9 433.4M372.1 433.4L379.9 425.6"/><path d="M343.4 436.8L351.2 444.6M343.4 444.6L351.2 436.8"/><path d="M345.2 455.2L353.0 463.0M345.2 463.0L353.0 455.2"/><path d="M383.2 444.8L391.0 452.6M383.2 452.6L391.0 444.8"/><path d="M376.1 455.4L383.9 463.2M376.1 463.2L383.9 455.4"/><path d="M373.0 471.8L380.8 479.5M373.0 479.5L380.8 471.8"/><path d="M404.1 425.6L411.9 433.4M404.1 433.4L411.9 425.6"/><path d="M408.5 445.4L416.2 453.2M408.5 453.2L416.2 445.4"/><path d="M432.2 447.4L440.0 455.2M432.2 455.2L440.0 447.4"/><path d="M429.3 453.8L437.1 461.5M429.3 461.5L437.1 453.8"/><path d="M451.4 463.5L459.2 471.2M451.4 471.2L459.2 463.5"/><path d="M416.1 494.1L423.9 501.9M416.1 501.9L423.9 494.1"/><path d="M555.9 479.2L563.6 487.0M555.9 487.0L563.6 479.2"/><path d="M636.8 429.1L644.5 436.9M636.8 436.9L644.5 429.1"/><path d="M635.4 473.4L643.1 481.2M635.4 481.2L643.1 473.4"/><path d="M744.9 452.1L752.6 459.9M744.9 459.9L752.6 452.1"/></g>
<line x1="120.2" y1="273.1" x2="808.4" y2="370.7" stroke="#2ca02c" stroke-width="3" stroke-dasharray="10.3 5.26"/>
<line x1="168.6" y1="236.8" x2="711.6" y2="442.9" stroke="#1f77b4" stroke-width="3" stroke-dasharray="10.3 5.26"/>
<line x1="113.6" y1="303.5" x2="904.4" y2="518.9" stroke="#ff7f0e" stroke-width="3" stroke-dasharray="10.3 5.26"/>
<line x1="114.8" y1="353.3" x2="772.7" y2="503.7" stroke="#d62728" stroke-width="3" stroke-dasharray="10.3 5.26"/>
</g>
<rect x="74.1" y="2.0" width="873.1" height="542.9" fill="none" stroke="#000" stroke-width="1.5"/>
<line x1="66.9" y1="492.4" x2="74.1" y2="492.4" stroke="#000" stroke-width="1.5"/>
<text transform="translate(60.3 500.4) scale(0.9608 1)" style="font-size:20.4px" text-anchor="end">0.2</text>
<line x1="66.9" y1="397.3" x2="74.1" y2="397.3" stroke="#000" stroke-width="1.5"/>
<text transform="translate(60.3 405.3) scale(0.9608 1)" style="font-size:20.4px" text-anchor="end">0.4</text>
<line x1="66.9" y1="302.3" x2="74.1" y2="302.3" stroke="#000" stroke-width="1.5"/>
<text transform="translate(60.3 310.3) scale(0.9608 1)" style="font-size:20.4px" text-anchor="end">0.6</text>
<line x1="66.9" y1="207.2" x2="74.1" y2="207.2" stroke="#000" stroke-width="1.5"/>
<text transform="translate(60.3 215.2) scale(0.9608 1)" style="font-size:20.4px" text-anchor="end">0.8</text>
<line x1="66.9" y1="112.2" x2="74.1" y2="112.2" stroke="#000" stroke-width="1.5"/>
<text transform="translate(60.3 120.2) scale(0.9608 1)" style="font-size:20.4px" text-anchor="end">1.0</text>
<line x1="66.9" y1="17.1" x2="74.1" y2="17.1" stroke="#000" stroke-width="1.5"/>
<text transform="translate(60.3 25.1) scale(0.9608 1)" style="font-size:20.4px" text-anchor="end">1.2</text>
<line x1="144.4" y1="544.9" x2="144.4" y2="552.1" stroke="#000" stroke-width="1.5"/>
<text transform="translate(144.4 574.9) scale(0.9608 1)" style="font-size:20.4px" text-anchor="middle">1</text>
<line x1="310.5" y1="544.9" x2="310.5" y2="552.1" stroke="#000" stroke-width="1.5"/>
<text transform="translate(310.5 574.9) scale(0.9608 1)" style="font-size:20.4px" text-anchor="middle">2</text>
<line x1="476.5" y1="544.9" x2="476.5" y2="552.1" stroke="#000" stroke-width="1.5"/>
<text transform="translate(476.5 574.9) scale(0.9608 1)" style="font-size:20.4px" text-anchor="middle">3</text>
<line x1="642.6" y1="544.9" x2="642.6" y2="552.1" stroke="#000" stroke-width="1.5"/>
<text transform="translate(642.6 574.9) scale(0.9608 1)" style="font-size:20.4px" text-anchor="middle">4</text>
<line x1="808.7" y1="544.9" x2="808.7" y2="552.1" stroke="#000" stroke-width="1.5"/>
<text transform="translate(808.7 574.9) scale(0.9608 1)" style="font-size:20.4px" text-anchor="middle">5</text>
<text transform="translate(510.6 602.2) scale(0.98 1)" style="font-size:20.0px" text-anchor="middle">Mean Freqeuncy after STFT (Hz)</text>
<text transform="translate(16.2 273.9) rotate(-90) scale(0.98 1)" style="font-size:20.0px" text-anchor="middle">Mean Peak Height (-)</text>
<rect x="524.3" y="12.1" width="412.6" height="123.4" rx="4.5" fill="#fff" fill-opacity="0.8" stroke="#d0d0d0" stroke-width="1.6"/>
<line x1="532" y1="28.2" x2="571" y2="28.2" stroke="#2ca02c" stroke-width="3" stroke-dasharray="10.3 5.26"/>
<rect x="545.45" y="22.05" width="12.30" height="12.30" fill="#2ca02c" stroke="#2ca02c" stroke-width="0.9" stroke-linejoin="round"/>
<text transform="translate(586.6 35.8) scale(0.98 1)" style="font-size:20.0px">UPDRS item score = 0 (r = -0.25)</text>
<line x1="532" y1="57.8" x2="571" y2="57.8" stroke="#1f77b4" stroke-width="3" stroke-dasharray="10.3 5.26"/>
<circle cx="551.6" cy="57.8" r="6.7" fill="#1f77b4"/>
<text transform="translate(586.6 65.3) scale(0.98 1)" style="font-size:20.0px">UPDRS item score = 1 (r = -0.55)</text>
<line x1="532" y1="87.3" x2="571" y2="87.3" stroke="#ff7f0e" stroke-width="3" stroke-dasharray="10.3 5.26"/>
<path d="M551.60 80.71L558.47 94.45L544.73 94.45Z" fill="#ff7f0e" stroke="#ff7f0e" stroke-width="0.9" stroke-linejoin="round"/>
<text transform="translate(586.6 94.9) scale(0.98 1)" style="font-size:20.0px">UPDRS item score = 2 (r = -0.55)</text>
<line x1="532" y1="116.9" x2="571" y2="116.9" stroke="#d62728" stroke-width="3" stroke-dasharray="10.3 5.26"/>
<path d="M546.0 111.3L557.2 122.5M546.0 122.5L557.2 111.3" stroke="#d62728" stroke-width="2.2" fill="none"/>
<text transform="translate(586.6 124.5) scale(0.98 1)" style="font-size:20.0px">UPDRS item score = 3+ (r = -0.53)</text>
</svg></body></html>
